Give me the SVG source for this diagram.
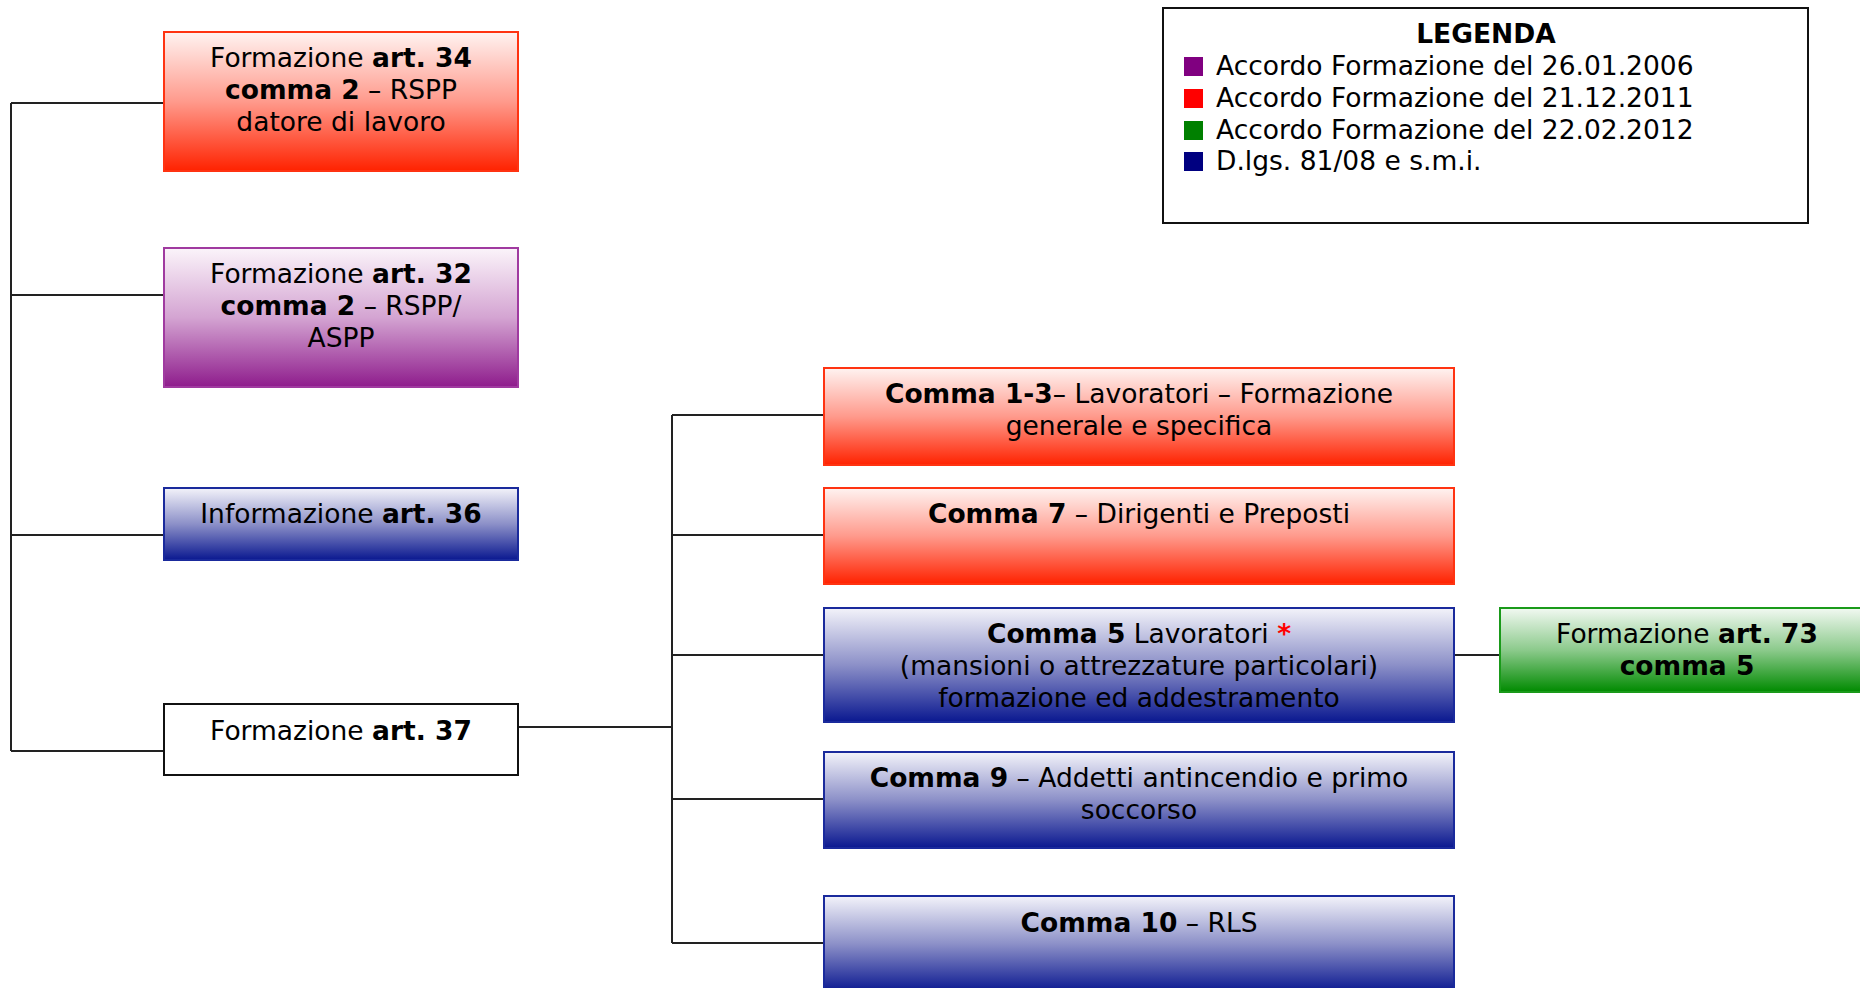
<svg xmlns="http://www.w3.org/2000/svg" width="1860" height="988" viewBox="0 0 1860 988">
<defs>
<linearGradient id="gRed" x1="0" y1="0" x2="0" y2="1"><stop offset="0" stop-color="#fff3f1"/><stop offset="0.5" stop-color="#ff9a8c"/><stop offset="1" stop-color="#ff2200"/></linearGradient>
<linearGradient id="gPur" x1="0" y1="0" x2="0" y2="1"><stop offset="0" stop-color="#fbf4fa"/><stop offset="0.5" stop-color="#d4a4d2"/><stop offset="1" stop-color="#8e1c8c"/></linearGradient>
<linearGradient id="gBlu" x1="0" y1="0" x2="0" y2="1"><stop offset="0" stop-color="#f3f3fa"/><stop offset="0.5" stop-color="#8c90c8"/><stop offset="1" stop-color="#0a1890"/></linearGradient>
<linearGradient id="gGrn" x1="0" y1="0" x2="0" y2="1"><stop offset="0" stop-color="#f2f9f2"/><stop offset="0.5" stop-color="#8cca8c"/><stop offset="1" stop-color="#008a00"/></linearGradient>
</defs>
<style>
text{font-family:"DejaVu Sans","Verdana","Liberation Sans",sans-serif;font-size:26.5px;fill:#000;text-anchor:middle}
.b{font-weight:bold}
.red{fill:url(#gRed);stroke:#ff3311;stroke-width:2}
.pur{fill:url(#gPur);stroke:#a03aa0;stroke-width:2}
.blu{fill:url(#gBlu);stroke:#1a2a9c;stroke-width:2}
.grn{fill:url(#gGrn);stroke:#1a9a1a;stroke-width:2}
.wht{fill:#fff;stroke:#111;stroke-width:2}
.conn{fill:none;stroke:#222;stroke-width:2}
.leg text{text-anchor:start}
</style>
<g id="connectors" class="conn">
<path d="M11,103 V751 M11,103 H164 M11,295 H164 M11,535 H164 M11,751 H164"/>
<path d="M518,727 H672 M672,415 V943 M672,415 H824 M672,535 H824 M672,655 H824 M672,799 H824 M672,943 H824"/>
<path d="M1454,655 H1500"/>
</g>
<g id="n-art34"><rect class="red" x="164" y="32" width="354" height="139"/>
<text x="341" y="67">Formazione <tspan class="b">art. 34</tspan></text>
<text x="341" y="99"><tspan class="b">comma 2</tspan> – RSPP</text>
<text x="341" y="131">datore di lavoro</text></g>
<g id="n-art32"><rect class="pur" x="164" y="248" width="354" height="139"/>
<text x="341" y="283">Formazione <tspan class="b">art. 32</tspan></text>
<text x="341" y="315"><tspan class="b">comma 2</tspan> – RSPP/</text>
<text x="341" y="347">ASPP</text></g>
<g id="n-art36"><rect class="blu" x="164" y="488" width="354" height="72"/>
<text x="341" y="523">Informazione <tspan class="b">art. 36</tspan></text></g>
<g id="n-art37"><rect class="wht" x="164" y="704" width="354" height="71"/>
<text x="341" y="740">Formazione <tspan class="b">art. 37</tspan></text></g>
<g id="n-c13"><rect class="red" x="824" y="368" width="630" height="97"/>
<text x="1139" y="403"><tspan class="b">Comma 1-3</tspan>– Lavoratori – Formazione</text>
<text x="1139" y="435">generale e specifica</text></g>
<g id="n-c7"><rect class="red" x="824" y="488" width="630" height="96"/>
<text x="1139" y="523"><tspan class="b">Comma 7</tspan> – Dirigenti e Preposti</text></g>
<g id="n-c5"><rect class="blu" x="824" y="608" width="630" height="114"/>
<text x="1139" y="643"><tspan class="b">Comma 5</tspan> Lavoratori <tspan class="b" fill="#ff0000">*</tspan></text>
<text x="1139" y="675">(mansioni o attrezzature particolari)</text>
<text x="1139" y="707">formazione ed addestramento</text></g>
<g id="n-c9"><rect class="blu" x="824" y="752" width="630" height="96"/>
<text x="1139" y="787"><tspan class="b">Comma 9</tspan> – Addetti antincendio e primo</text>
<text x="1139" y="819">soccorso</text></g>
<g id="n-c10"><rect class="blu" x="824" y="896" width="630" height="96"/>
<text x="1139" y="932"><tspan class="b">Comma 10</tspan> – RLS</text></g>
<g id="n-art73"><rect class="grn" x="1500" y="608" width="374" height="84"/>
<text x="1687" y="643">Formazione <tspan class="b">art. 73</tspan></text>
<text x="1687" y="675" class="b">comma 5</text></g>
<g id="legend" class="leg"><rect x="1163" y="8" width="645" height="215" fill="#fff" stroke="#111" stroke-width="2"/>
<text x="1486" y="43" class="b" style="text-anchor:middle">LEGENDA</text>
<rect x="1184" y="57" width="19" height="19" fill="#800080"/>
<text x="1216" y="75">Accordo Formazione del 26.01.2006</text>
<rect x="1184" y="89" width="19" height="19" fill="#ff0000"/>
<text x="1216" y="107">Accordo Formazione del 21.12.2011</text>
<rect x="1184" y="121" width="19" height="19" fill="#008000"/>
<text x="1216" y="139">Accordo Formazione del 22.02.2012</text>
<rect x="1184" y="152" width="19" height="19" fill="#000080"/>
<text x="1216" y="170">D.lgs. 81/08 e s.m.i.</text></g>
</svg>
